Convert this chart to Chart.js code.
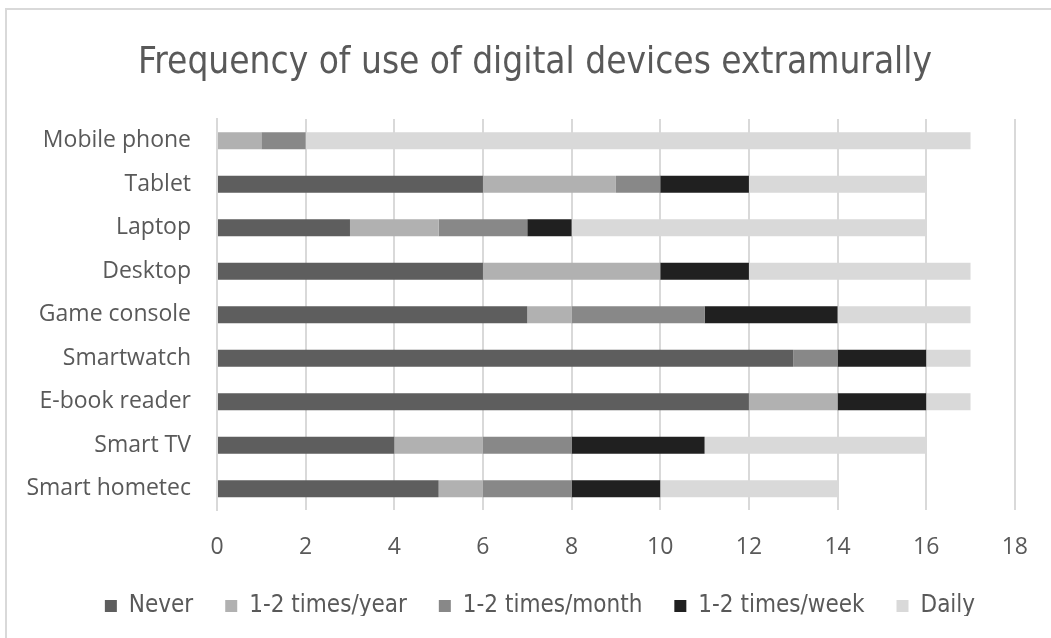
<!DOCTYPE html>
<html>
<head>
<meta charset="utf-8">
<script src="https://cdn.jsdelivr.net/npm/chart.js@4/dist/chart.umd.min.js"></script>
<style>
  html, body { margin: 0; padding: 0; background: #fff; }
  #wrap { position: relative; width: 1051px; height: 638px; overflow: hidden; }
  #frame { position: absolute; left: 5px; top: 8px; width: 1060px; height: 650px;
           border-top: 2px solid #d9d9d9; border-left: 2px solid #d9d9d9; box-sizing: border-box; }
  canvas { position: absolute; left: 0; top: 0; }
</style>
</head>
<body>
<div id="wrap">
  <div id="frame"></div>
  <canvas id="c" width="1051" height="638"></canvas>
</div>
<script>
const categories = ["Mobile phone", "Tablet", "Laptop", "Desktop", "Game console", "Smartwatch", "E-book reader", "Smart TV", "Smart hometec"];
const seriesNames = ["Never", "1-2 times/year", "1-2 times/month", "1-2 times/week", "Daily"];
const never   = [0, 6, 3, 6, 7, 13, 12, 4, 5];
const perYear = [1, 3, 2, 4, 1, 0, 2, 2, 1];
const perMonth= [1, 1, 2, 0, 3, 1, 0, 2, 2];
const perWeek = [0, 2, 1, 2, 3, 2, 2, 3, 2];
const daily   = [15, 4, 8, 5, 3, 1, 1, 5, 4];
const xTicks  = [0, 2, 4, 6, 8, 10, 12, 14, 16, 18];
const seriesColors = ["#5e5e5e", "#b1b1b1", "#888888", "#202020", "#d9d9d9"];

const seriesValues = [never, perYear, perMonth, perWeek, daily];
const datasets = seriesNames.map((name, i) => ({
  label: name,
  data: seriesValues[i],
  backgroundColor: seriesColors[i],
  borderWidth: 0,
  barPercentage: 0.39,
  categoryPercentage: 1.0
}));

// layout helpers: reserve a fixed height for the legend, then place title/legend
const LEGEND_HEIGHT = 54;
const LEGEND_TOP = 562;
const TITLE_LEFT = 52;
const LEGEND_LEFT = 62;
const layoutTweak = {
  id: 'layoutTweak',
  beforeInit(chart) {
    const origFit = chart.legend.fit;
    chart.legend.fit = function () {
      origFit.call(this);
      this.height = LEGEND_HEIGHT;
    };
  },
  afterLayout(chart) {
    const lg = chart.legend;
    const h = lg.bottom - lg.top;
    lg.top = LEGEND_TOP;
    lg.bottom = LEGEND_TOP + h;
    lg.left = LEGEND_LEFT;
    chart.titleBlock.left = TITLE_LEFT;
  }
};

const narrow = '"DejaVu Sans Condensed", "Liberation Sans Narrow", sans-serif';
const axisFont = '"Open Sans", sans-serif';

new Chart(document.getElementById('c'), {
  type: 'bar',
  data: { labels: categories, datasets },
  plugins: [layoutTweak],
  options: {
    indexAxis: 'y',
    responsive: false,
    animation: false,
    devicePixelRatio: 1,
    layout: { padding: { left: 0, right: 33, top: 0, bottom: 0 } },
    plugins: {
      title: {
        display: true,
        text: 'Frequency of use of digital devices extramurally',
        color: '#595959',
        font: { family: narrow, size: 36.7, weight: 'normal' },
        padding: { top: 41, bottom: 34 }
      },
      legend: {
        position: 'bottom',
        labels: {
          color: '#595959',
          boxWidth: 12,
          boxHeight: 12,
          padding: 32,
          font: { family: narrow, size: 24 }
        }
      },
      tooltip: { enabled: false }
    },
    scales: {
      x: {
        stacked: true,
        min: 0,
        max: 18,
        afterBuildTicks: (s) => { s.ticks = xTicks.map(v => ({ value: v })); },
        grid: { color: '#d9d9d9', lineWidth: 2, drawTicks: false },
        border: { display: false },
        ticks: {
          color: '#595959',
          padding: 23,
          font: { family: axisFont, size: 23 }
        }
      },
      y: {
        stacked: true,
        grid: { display: false, drawTicks: false },
        border: { display: true, color: '#d9d9d9', width: 2 },
        afterFit: (s) => { s.width = 217; },
        ticks: {
          color: '#595959',
          padding: 26,
          font: { family: axisFont, size: 23 }
        }
      }
    }
  }
});
</script>
</body>
</html>
